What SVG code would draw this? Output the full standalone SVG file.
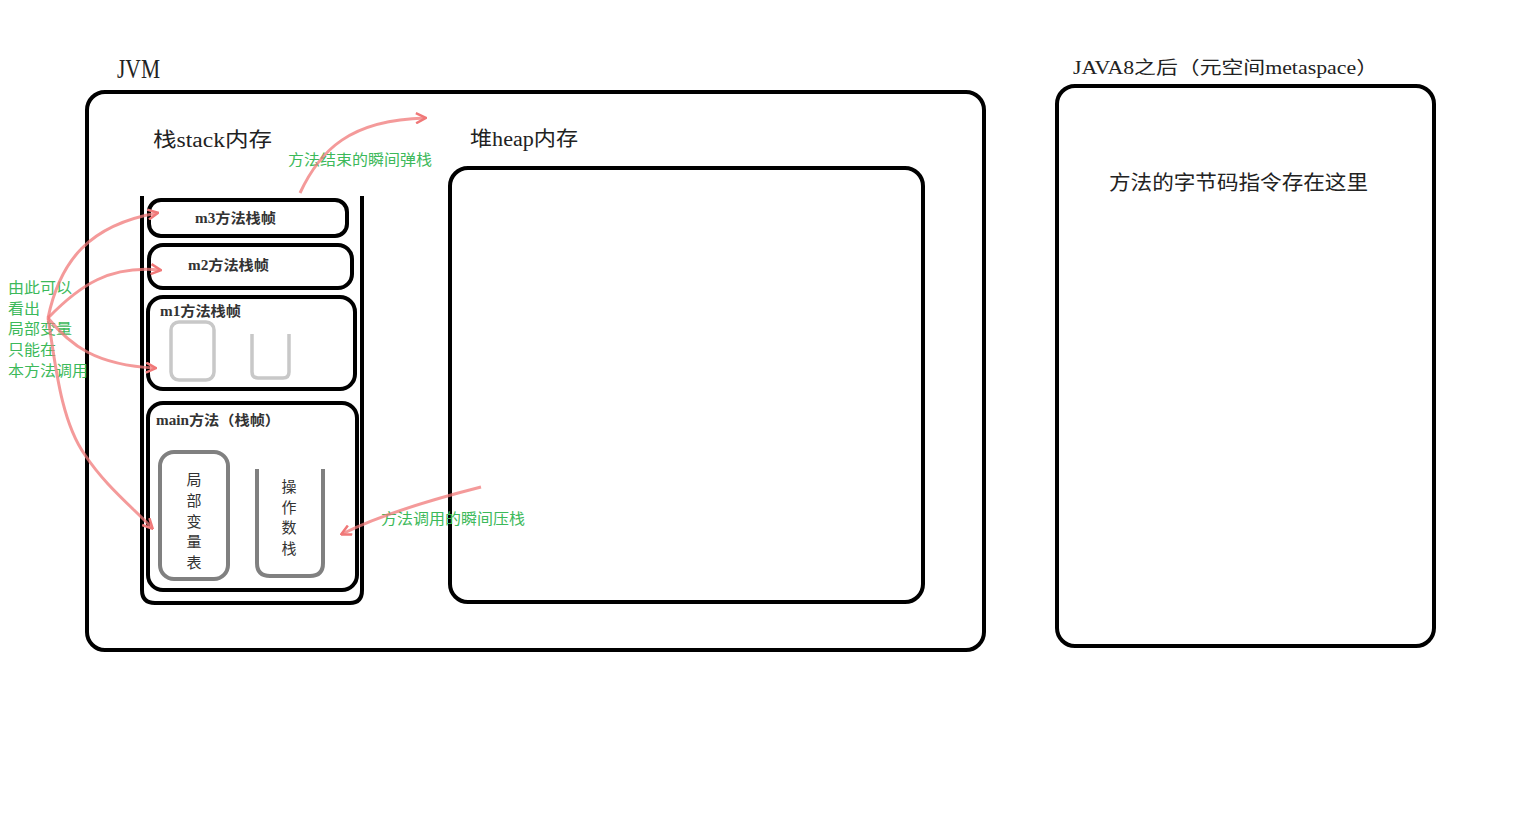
<svg xmlns="http://www.w3.org/2000/svg" width="1536" height="813" viewBox="0 0 1536 813">
<defs>
<marker id="ah" viewBox="0 0 12 12" refX="10" refY="6" markerWidth="12" markerHeight="12" markerUnits="userSpaceOnUse" orient="auto">
<path d="M1,1 L11,6 L1,11" fill="none" stroke="#f07878" stroke-width="2.5"/>
</marker>
<style>
.box{fill:none;stroke:#000;stroke-width:4}
.lbl{font-family:"Liberation Serif","Noto Sans CJK SC",serif;fill:#222}
.fr{font-family:"Liberation Serif","Noto Sans CJK SC",serif;font-size:14px;font-weight:bold;fill:#333}
.grn{font-family:"Liberation Serif","Noto Sans CJK SC",serif;font-size:15px;fill:#3cb95a}
.vt{font-family:"Liberation Serif","Noto Sans CJK SC",serif;font-size:15px;fill:#333;text-anchor:middle}
.red{fill:none;stroke:#f07878;stroke-width:3;stroke-opacity:0.75;marker-end:url(#ah)}
</style>
</defs>
<rect width="1536" height="813" fill="#fff"/>
<g id="jvm">
<rect class="box" x="87" y="92" width="897" height="558" rx="18"/>
<text class="lbl" x="117" y="78" font-size="27" textLength="43" lengthAdjust="spacingAndGlyphs">JVM</text>
</g>
<g id="metaspace">
<rect class="box" x="1057" y="86" width="377" height="560" rx="18"/>
<text class="lbl" x="1073" y="74" font-size="18" textLength="305" lengthAdjust="spacingAndGlyphs">JAVA8之后（元空间metaspace）</text>
<text class="lbl" x="1109" y="190" font-size="20" textLength="259" lengthAdjust="spacingAndGlyphs">方法的字节码指令存在这里</text>
</g>
<g id="stack">
<text class="lbl" x="153" y="147" font-size="20" textLength="119" lengthAdjust="spacingAndGlyphs">栈stack内存</text>
<path class="box" d="M142,196 V590 Q142,603 155,603 H350 Q362,603 362,590 V196"/>
</g>
<g id="heap">
<text class="lbl" x="470" y="146" font-size="20" textLength="108" lengthAdjust="spacingAndGlyphs">堆heap内存</text>
<rect class="box" x="450" y="168" width="473" height="434" rx="18"/>
</g>
<g id="m3">
<rect class="box" x="149" y="200" width="198" height="36" rx="12"/>
<text class="fr" x="195" y="223" textLength="81" lengthAdjust="spacingAndGlyphs">m3方法栈帧</text>
</g>
<g id="m2">
<rect class="box" x="149" y="245" width="203" height="43" rx="14"/>
<text class="fr" x="188" y="270" textLength="81" lengthAdjust="spacingAndGlyphs">m2方法栈帧</text>
</g>
<g id="m1">
<rect class="box" x="148" y="297" width="207" height="92" rx="15"/>
<text class="fr" x="160" y="316" textLength="81" lengthAdjust="spacingAndGlyphs">m1方法栈帧</text>
<rect x="171" y="322" width="43" height="58" rx="8" fill="none" stroke="#c8c8c8" stroke-width="3.5"/>
<path d="M252,334 V372 Q252,378 258,378 H283 Q289,378 289,372 V334" fill="none" stroke="#c8c8c8" stroke-width="3.5"/>
</g>
<g id="main">
<rect class="box" x="148" y="403" width="209" height="187" rx="15"/>
<text class="fr" x="156" y="425" textLength="124" lengthAdjust="spacingAndGlyphs">main方法（栈帧）</text>
</g>
<g id="localvars">
<rect x="160" y="452" width="68" height="127" rx="14" fill="none" stroke="#808080" stroke-width="4"/>
<text class="vt" x="194" y="485">局</text>
<text class="vt" x="194" y="506">部</text>
<text class="vt" x="194" y="527">变</text>
<text class="vt" x="194" y="547">量</text>
<text class="vt" x="194" y="568">表</text>
</g>
<g id="opstack">
<path d="M257,469 V563 Q257,576 270,576 H310 Q323,576 323,563 V469" fill="none" stroke="#808080" stroke-width="4"/>
<text class="vt" x="289" y="492">操</text>
<text class="vt" x="289" y="513">作</text>
<text class="vt" x="289" y="533">数</text>
<text class="vt" x="289" y="554">栈</text>
</g>
<g id="notes">
<text class="grn" x="288" y="165" textLength="144" lengthAdjust="spacingAndGlyphs">方法结束的瞬间弹栈</text>
<text class="grn" x="381" y="524" textLength="144" lengthAdjust="spacingAndGlyphs">方法调用的瞬间压栈</text>
<text class="grn" x="8" y="293" textLength="64" lengthAdjust="spacingAndGlyphs">由此可以</text>
<text class="grn" x="8" y="314" textLength="32" lengthAdjust="spacingAndGlyphs">看出</text>
<text class="grn" x="8" y="334" textLength="64" lengthAdjust="spacingAndGlyphs">局部变量</text>
<text class="grn" x="8" y="355" textLength="48" lengthAdjust="spacingAndGlyphs">只能在</text>
<text class="grn" x="8" y="376" textLength="80" lengthAdjust="spacingAndGlyphs">本方法调用</text>
</g>
<g id="connectors">
<path class="red" d="M48,318 C60,260 90,225 157,213"/>
<path class="red" d="M48,318 C80,285 110,265 160,270"/>
<path class="red" d="M48,318 C70,345 95,365 155,368"/>
<path class="red" d="M48,318 C55,360 60,420 85,455 C105,485 130,505 152,528"/>
<path class="red" d="M300,193 C320,150 350,120 425,118"/>
<path class="red" d="M481,487 C430,500 380,515 342,534"/>
</g>
</svg>
